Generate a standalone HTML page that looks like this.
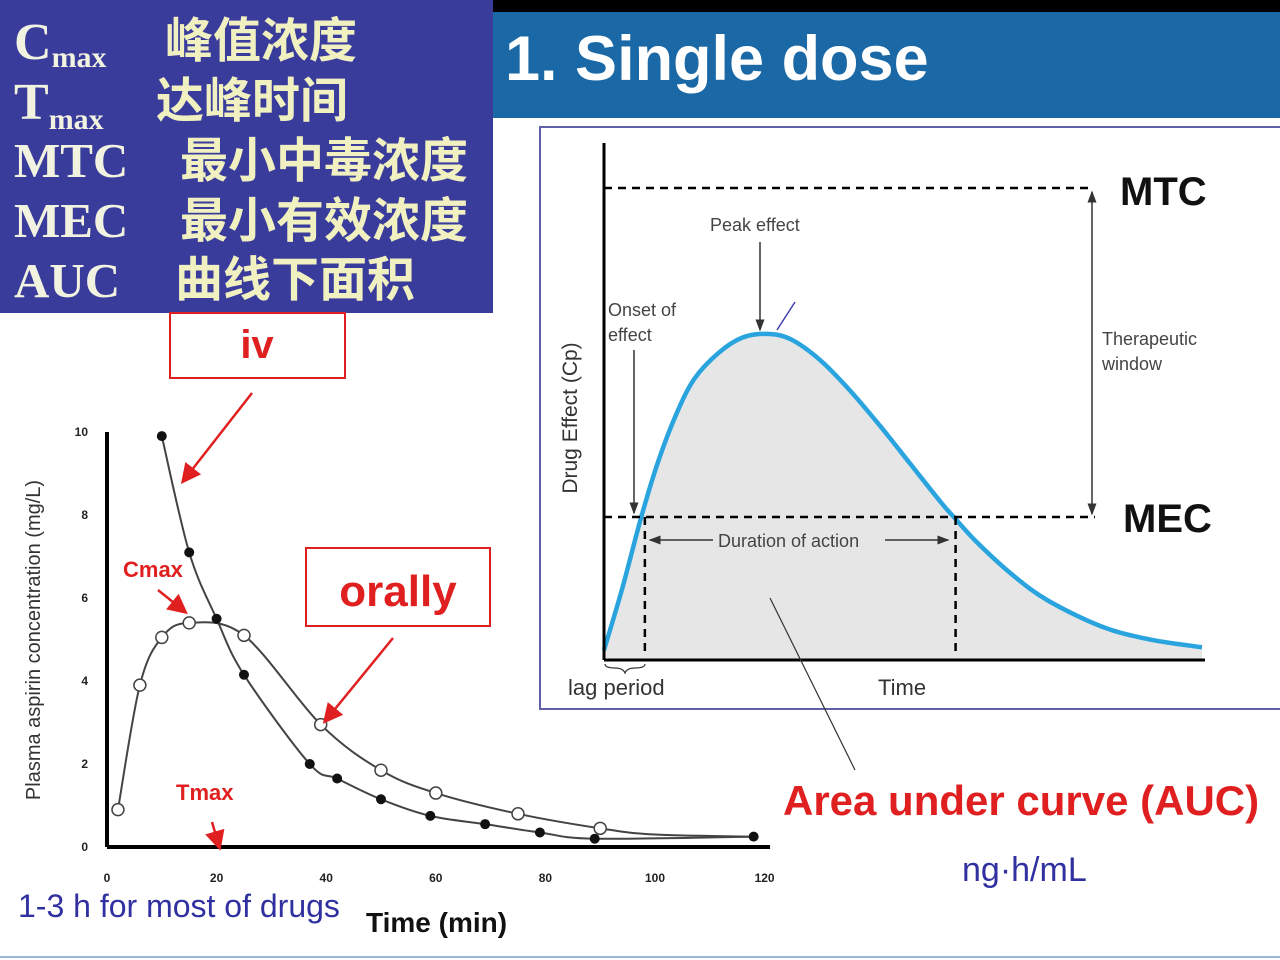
<!DOCTYPE html>
<html><head><meta charset="utf-8">
<style>
html,body{margin:0;padding:0;background:#fff;}
body{width:1280px;height:960px;position:relative;overflow:hidden;font-family:"Liberation Sans",sans-serif;}
svg{position:absolute;left:0;top:0;}
</style></head>
<body>
<svg id="s" width="1280" height="960" viewBox="0 0 1280 960" xmlns="http://www.w3.org/2000/svg">
  <rect x="0" y="0" width="1280" height="12" fill="#000"/>
  <rect x="493" y="12" width="787" height="106" fill="#1a69a6"/>
  <text x="505" y="80" font-size="63" font-weight="bold" fill="#fff">1. Single dose</text>
  <rect x="0" y="0" width="493" height="313" fill="#3a3c9c"/>
  <g font-family="Liberation Serif, serif" font-weight="bold" fill="#f2f2e0">
    <text x="14" y="59" font-size="52">C<tspan font-size="30" dy="8">max</tspan></text>
    <text x="14" y="119" font-size="52">T<tspan font-size="30" dy="10">max</tspan></text>
    <text x="14" y="177" font-size="49">MTC</text>
    <text x="14" y="237" font-size="49">MEC</text>
    <text x="14" y="297" font-size="49">AUC</text>
  </g>
  <g font-family="Liberation Sans, 'Noto Sans CJK SC', sans-serif" fill="#f0f0c0" font-size="48" font-weight="bold">
    <text x="165" y="57">峰值浓度</text>
    <text x="156" y="117">达峰时间</text>
    <text x="180" y="177">最小中毒浓度</text>
    <text x="180" y="237">最小有效浓度</text>
    <text x="175" y="296">曲线下面积</text>
  </g>
  <rect x="540" y="127" width="745" height="582" fill="none" stroke="#6060a8" stroke-width="2"/>
  <g id="right"></g>
  <g id="left"></g>
  <line x1="0" y1="957" x2="1280" y2="957" stroke="#9ab8d8" stroke-width="2"/>
</svg>
<script>
// ---------- left chart data ----------
const ivTimes = [10,15,20,25,37,42,50,59,69,79,89,118];
const ivConc  = [9.9,7.1,5.5,4.15,2.0,1.65,1.15,0.75,0.55,0.35,0.2,0.25];
const oralTimes = [2,6,10,15,25,39,50,60,75,90];
const oralConc  = [0.9,3.9,5.05,5.4,5.1,2.95,1.85,1.3,0.8,0.45];
const oralTailTimes = [100,118];
const oralTailConc = [0.3,0.25];
const xTicks = [0,20,40,60,80,100,120];
const yTicks = [0,2,4,6,8,10];
// ---------- right chart data ----------
const effTime = [0,3,6.2,9,12,15,19,23,27,31,36,41,46,51,56,58.2,62,68,74,83,91,99.5];
const effVal  = [2.1,15,30.3,42,52,59.5,65,68.3,69.1,68,63.5,57,49.5,41.5,33.5,30.3,25,18,12.5,7,4.3,2.7];
const mtcLevel = 100, mecLevel = 30.3, onsetT = 6.8, offsetT = 58.5;

const NS='http://www.w3.org/2000/svg';
function mk(tag,attrs,parent,txt){const e=document.createElementNS(NS,tag);for(const k in attrs)e.setAttribute(k,attrs[k]);if(txt!==undefined)e.textContent=txt;parent.appendChild(e);return e;}
function smooth(pts){let d='M'+pts[0][0]+','+pts[0][1];for(let i=0;i<pts.length-1;i++){const p0=pts[i-1]||pts[i],p1=pts[i],p2=pts[i+1],p3=pts[i+2]||p2;const c1=[p1[0]+(p2[0]-p0[0])/6,p1[1]+(p2[1]-p0[1])/6],c2=[p2[0]-(p3[0]-p1[0])/6,p2[1]-(p3[1]-p1[1])/6];d+=` C${c1[0]},${c1[1]} ${c2[0]},${c2[1]} ${p2[0]},${p2[1]}`;}return d;}

// left
const L=document.getElementById('left');
const lx=t=>107+t*5.48, ly=c=>847-c*41.5;
let e;
e=mk('line',{x1:lx(0),y1:ly(0),x2:lx(0),y2:ly(10),stroke:'#000','stroke-width':4},L);


e=mk('line',{x1:lx(0),y1:ly(0),x2:lx(121),y2:ly(0),stroke:'#000','stroke-width':4},L);


xTicks.forEach(t=>{e=mk('text',{x:lx(t),y:882,'font-size':12,'font-weight':'bold','text-anchor':'middle',fill:'#222'},L,String(t));

});
yTicks.forEach(v=>{e=mk('text',{x:88,y:ly(v)+4,'font-size':12,'font-weight':'bold','text-anchor':'end',fill:'#222'},L,String(v));

});
e=mk('text',{x:0,y:0,'font-size':20,fill:'#333','text-anchor':'middle',transform:'translate(40,640) rotate(-90)'},L,'Plasma aspirin concentration (mg/L)');


e=mk('text',{x:366,y:932,'font-size':28,'font-weight':'bold',fill:'#111'},L,'Time (min)');


const ivPts=ivTimes.map((t,i)=>[lx(t),ly(ivConc[i])]);
e=mk('path',{d:smooth(ivPts),fill:'none',stroke:'#444','stroke-width':2},L);


const oralPts=oralTimes.concat(oralTailTimes).map((t,i)=>[lx(t),ly(oralConc.concat(oralTailConc)[i])]);
e=mk('path',{d:smooth(oralPts),fill:'none',stroke:'#444','stroke-width':2},L);


ivTimes.forEach((t,i)=>{e=mk('circle',{cx:lx(t),cy:ly(ivConc[i]),r:5,fill:'#111'},L);

});
oralTimes.forEach((t,i)=>{e=mk('circle',{cx:lx(t),cy:ly(oralConc[i]),r:6,fill:'#fff',stroke:'#444','stroke-width':1.5},L);

});

// annotations left
mk('defs',{},L).innerHTML='<marker id="ra" markerWidth="8" markerHeight="8" refX="6" refY="4" orient="auto"><path d="M0,0 L8,4 L0,8 z" fill="#e02020"/></marker><marker id="ka" markerWidth="8" markerHeight="8" refX="7" refY="4" orient="auto"><path d="M0,1 L8,4 L0,7 z" fill="#333"/></marker><marker id="ks" markerWidth="8" markerHeight="8" refX="1" refY="4" orient="auto"><path d="M8,1 L0,4 L8,7 z" fill="#333"/></marker>';
e=mk('rect',{x:170,y:313,width:175,height:65,fill:'#fff',stroke:'#e02020','stroke-width':2},L);


e=mk('text',{x:257,y:358,'font-size':40,'font-weight':'bold',fill:'#e02020','text-anchor':'middle'},L,'iv');


e=mk('rect',{x:306,y:548,width:184,height:78,fill:'#fff',stroke:'#e02020','stroke-width':2},L);


e=mk('text',{x:398,y:606,'font-size':44,'font-weight':'bold',fill:'#e02020','text-anchor':'middle'},L,'orally');


[[252,393,184,480],[393,638,326,720],[158,590,184,611],[212,822,219,846]].forEach(a=>{e=mk('line',{x1:a[0],y1:a[1],x2:a[2],y2:a[3],stroke:'#e02020','stroke-width':2.5,'marker-end':'url(#ra)'},L);

});
e=mk('text',{x:123,y:577,'font-size':22,'font-weight':'bold',fill:'#e02020'},L,'Cmax');


e=mk('text',{x:176,y:800,'font-size':22,'font-weight':'bold',fill:'#e02020'},L,'Tmax');


e=mk('text',{x:18,y:917,'font-size':32,fill:'#3030a0'},L,'1-3 h for most of drugs');



// right
const R=document.getElementById('right');
const rx=t=>604+t*6.01, ry=v=>660-v*4.72;
const cPts=effTime.map((t,i)=>[rx(t),ry(effVal[i])]);
const cd=smooth(cPts);
e=mk('path',{d:cd+` L${rx(effTime[effTime.length-1])},${ry(0)} L${rx(0)},${ry(0)} Z`,fill:'#e6e6e6'},R);


e=mk('path',{d:cd,fill:'none',stroke:'#2aa4de','stroke-width':4.5},R);


e=mk('line',{x1:rx(0),y1:143,x2:rx(0),y2:ry(0),stroke:'#000','stroke-width':3},R);


e=mk('line',{x1:rx(0),y1:ry(0),x2:rx(100),y2:ry(0),stroke:'#000','stroke-width':3},R);


e=mk('line',{x1:rx(0),y1:ry(mtcLevel),x2:1092,y2:ry(mtcLevel),stroke:'#000','stroke-width':2.5,'stroke-dasharray':'8 6'},R);


e=mk('line',{x1:rx(0),y1:ry(mecLevel),x2:1095,y2:ry(mecLevel),stroke:'#000','stroke-width':2.5,'stroke-dasharray':'8 6'},R);


[onsetT,offsetT].forEach(t=>{e=mk('line',{x1:rx(t),y1:ry(mecLevel),x2:rx(t),y2:ry(0)-4,stroke:'#000','stroke-width':2.5,'stroke-dasharray':'8 6'},R);

});
e=mk('line',{x1:1092,y1:ry(mtcLevel)+4,x2:1092,y2:ry(mecLevel)-3,stroke:'#333','stroke-width':1.5,'marker-end':'url(#ka)','marker-start':'url(#ks)'},R);


e=mk('line',{x1:760,y1:242,x2:760,y2:330,stroke:'#333','stroke-width':1.5,'marker-end':'url(#ka)'},R);


e=mk('line',{x1:795,y1:302,x2:777,y2:330,stroke:'#4040b0','stroke-width':1.5},R);


e=mk('line',{x1:634,y1:350,x2:634,y2:513,stroke:'#333','stroke-width':1.5,'marker-end':'url(#ka)'},R);


e=mk('line',{x1:713,y1:540,x2:650,y2:540,stroke:'#333','stroke-width':1.5,'marker-end':'url(#ka)'},R);


e=mk('line',{x1:885,y1:540,x2:948,y2:540,stroke:'#333','stroke-width':1.5,'marker-end':'url(#ka)'},R);


e=mk('path',{d:'M605,664 q0,4 10,4 q8,0 10,5 q2,-5 10,-5 q10,0 10,-4',fill:'none',stroke:'#333','stroke-width':1.2},R);


e=mk('line',{x1:770,y1:598,x2:855,y2:770,stroke:'#333','stroke-width':1.2},R);


const labels=[
 ['Peak effect',710,231,18,'#444','normal','peak-effect-label'],
 ['Onset of',608,316,18,'#444','normal','onset-label'],
 ['effect',608,341,18,'#444','normal','onset-label-2'],
 ['Therapeutic',1102,345,18,'#444','normal','therapeutic-label'],
 ['window',1102,370,18,'#444','normal','therapeutic-label-2'],
 ['Duration of action',718,547,18,'#444','normal','duration-label'],
 ['MTC',1120,205,40,'#111','bold','mtc-label'],
 ['MEC',1123,532,40,'#111','bold','mec-label'],
 ['lag period',568,695,22,'#333','normal','lag-period-label'],
 ['Time',878,695,22,'#333','normal','effect-x-title'],
 ['Area under curve (AUC)',783,815,42,'#e02020','bold','auc-title'],
 ['ng·h/mL',962,881,34,'#3030a0','normal','auc-unit']];
labels.forEach(l=>{e=mk('text',{x:l[1],y:l[2],'font-size':l[3],fill:l[4],'font-weight':l[5]},R,l[0]);

});
e=mk('text',{x:0,y:0,'font-size':21,fill:'#333','text-anchor':'middle',transform:'translate(577,418) rotate(-90)'},R,'Drug Effect (Cp)');


</script>
</body></html>
